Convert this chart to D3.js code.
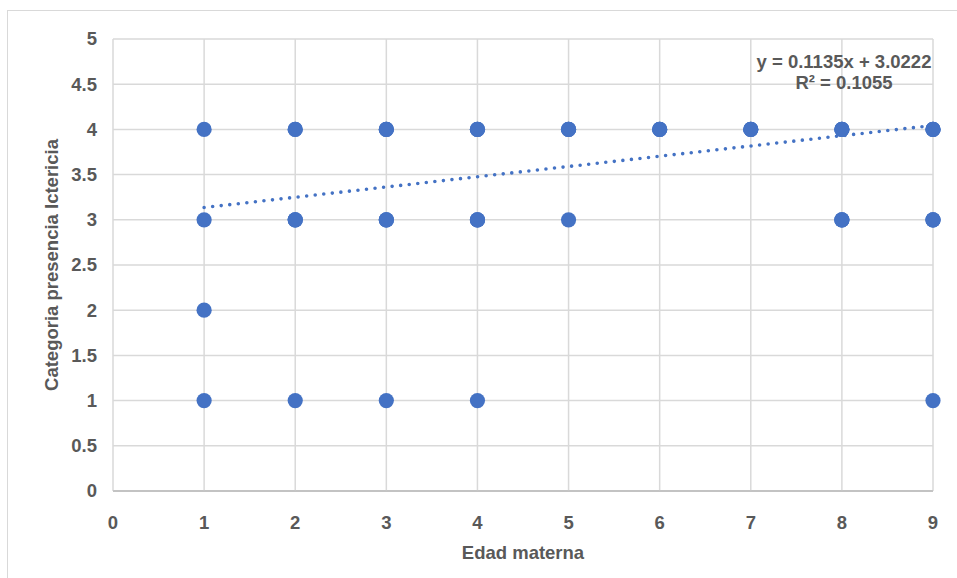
<!DOCTYPE html>
<html><head><meta charset="utf-8">
<script src="https://cdn.jsdelivr.net/npm/d3@7"></script>
<style>body{margin:0;background:#fff}svg{display:block}text{font-family:"Liberation Sans",Arial,sans-serif;font-weight:bold;fill:#595959}</style>
</head><body><svg id="c" width="957" height="578"></svg>
<script>
// Data
const edadMaterna = [1,1,1,1, 2,2,2, 3,3,3, 4,4,4, 5,5, 6, 7, 8,8, 9,9,9];
const categoria   = [4,3,2,1, 4,3,1, 4,3,1, 4,3,1, 4,3, 4, 4, 4,3, 4,3,1];
const repeticiones= [1,1,1,1, 2,3,1, 3,3,1, 3,3,1, 3,1, 3, 3, 3,3, 3,3,1];
const xTicks = [0,1,2,3,4,5,6,7,8,9];
const yTicks = [0,0.5,1,1.5,2,2.5,3,3.5,4,4.5,5];
const pendiente = 0.1135, intercepto = 3.0222, r2 = 0.1055;
const xTitle = "Edad materna", yTitle = "Categoria presencia Ictericia";

const svg = d3.select("#c");
const L=113,R=933,T=39,B=491;
const x = d3.scaleLinear().domain([0,9]).range([L,R]);
const y = d3.scaleLinear().domain([0,5]).range([B,T]);
const FS = 18.5;

svg.append("rect").attr("x",7.5).attr("y",10.5).attr("width",960).attr("height",580)
  .attr("fill","#fff").attr("stroke","#d9d9d9").attr("stroke-width",1);

const g = svg.append("g");
g.selectAll(".gy").data(yTicks).join("line").attr("x1",L).attr("x2",R)
  .attr("y1",d=>y(d)).attr("y2",d=>y(d)).attr("stroke",d=>d===0?"#bfbfbf":"#d9d9d9").attr("stroke-width",1.5);
g.selectAll(".gx").data(xTicks).join("line").attr("y1",T).attr("y2",B)
  .attr("x1",d=>x(d)).attr("x2",d=>x(d)).attr("stroke","#d9d9d9").attr("stroke-width",1.5);
g.append("line").attr("x1",L).attr("x2",R).attr("y1",B).attr("y2",B).attr("stroke","#bfbfbf").attr("stroke-width",1.5);

svg.selectAll(".yl").data(yTicks).join("text").attr("x",97).attr("y",d=>y(d)).attr("dy","0.35em")
  .attr("text-anchor","end").attr("font-size",FS).text(d=>d);
svg.selectAll(".xl").data(xTicks).join("text").attr("x",d=>x(d)).attr("y",523).attr("dy","0.35em")
  .attr("text-anchor","middle").attr("font-size",FS).text(d=>d);

svg.append("text").attr("x",(L+R)/2).attr("y",553).attr("dy","0.35em").attr("text-anchor","middle")
  .attr("font-size",FS).text(xTitle);
svg.append("text").attr("transform",`translate(52,${(T+B)/2}) rotate(-90)`).attr("dy","0.35em")
  .attr("text-anchor","middle").attr("font-size",FS).text(yTitle);

// points
const pts = [];
edadMaterna.forEach((v,i)=>{for(let k=0;k<repeticiones[i];k++)pts.push([v,categoria[i]]);});
svg.append("g").selectAll("circle").data(pts).join("circle")
  .attr("cx",d=>x(d[0])).attr("cy",d=>y(d[1])).attr("r",7.6).attr("fill","#4472c4");

// trendline
const x0=d3.min(edadMaterna), x1=d3.max(edadMaterna);
svg.append("line").attr("x1",x(x0)).attr("y1",y(pendiente*x0+intercepto))
  .attr("x2",x(x1)).attr("y2",y(pendiente*x1+intercepto))
  .attr("stroke","#4472c4").attr("stroke-width",3.6).attr("stroke-linecap","round")
  .attr("stroke-dasharray","0 8.6");

const eq = svg.append("text").attr("text-anchor","middle").attr("font-size",FS);
eq.append("tspan").attr("x",844).attr("y",68).text(`y = ${pendiente}x + ${intercepto}`);
eq.append("tspan").attr("x",844).attr("y",89).text(`R² = ${r2}`);
</script></body></html>
